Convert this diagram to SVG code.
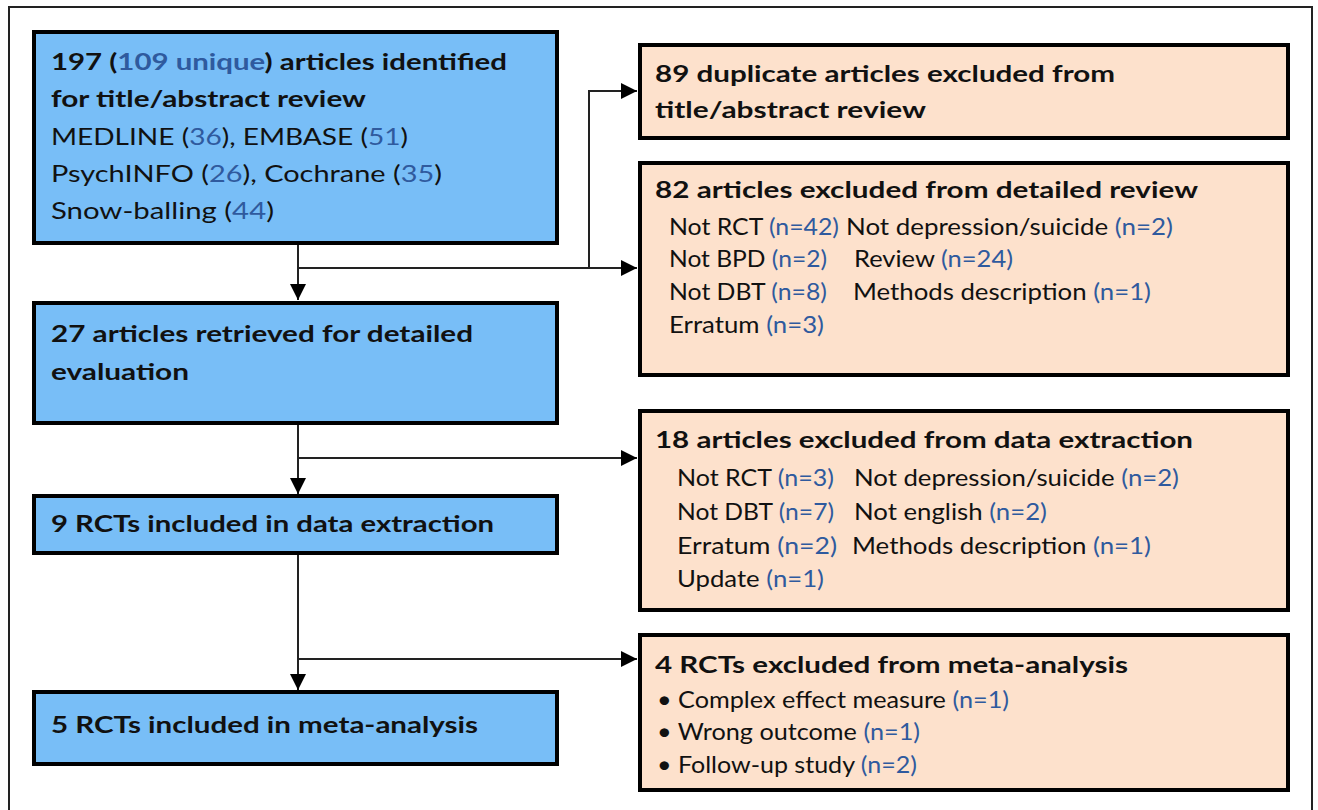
<svg xmlns="http://www.w3.org/2000/svg" width="1318" height="810" viewBox="0 0 1318 810">
<style>
.frame{fill:#fff;stroke:#222;stroke-width:2}
.blue{fill:#78BEF7;stroke:#000;stroke-width:4}
.peach{fill:#FDE1CC;stroke:#000;stroke-width:4}
text{font-family:Lato,"Open Sans","Liberation Sans",sans-serif;fill:#111;font-size:23.5px}
.b{font-weight:bold}
.n{fill:#2F5A9E}
.conn{fill:none;stroke:#222;stroke-width:2}
</style>
<defs>
<marker id="ah" markerUnits="userSpaceOnUse" markerWidth="17" markerHeight="17" refX="16" refY="8" orient="auto">
<path d="M0,0 L16,8 L0,16 z" fill="#000"/>
</marker>
</defs>
<rect class="frame" x="9" y="7" width="1303" height="820"/>
<g id="connectors">
<path class="conn" d="M298 245 V300" marker-end="url(#ah)"/>
<path class="conn" d="M298 268 H637" marker-end="url(#ah)"/>
<path class="conn" d="M589 268 V91 H637" marker-end="url(#ah)"/>
<path class="conn" d="M298 425 V494" marker-end="url(#ah)"/>
<path class="conn" d="M298 458 H637" marker-end="url(#ah)"/>
<path class="conn" d="M298 555 V690" marker-end="url(#ah)"/>
<path class="conn" d="M298 659 H637" marker-end="url(#ah)"/>
</g>
<g id="identified">
<rect class="blue" x="34" y="32" width="523" height="211"/>
<text class="b" x="51" y="70" textLength="456" lengthAdjust="spacingAndGlyphs">197 (<tspan class="n">109 unique</tspan>) articles identified</text>
<text class="b" x="51" y="107" textLength="315" lengthAdjust="spacingAndGlyphs">for title/abstract review</text>
<text x="51" y="145" textLength="357" lengthAdjust="spacingAndGlyphs">MEDLINE (<tspan class="n">36</tspan>), EMBASE (<tspan class="n">51</tspan>)</text>
<text x="51" y="182" textLength="391" lengthAdjust="spacingAndGlyphs">PsychINFO (<tspan class="n">26</tspan>), Cochrane (<tspan class="n">35</tspan>)</text>
<text x="51" y="219" textLength="223" lengthAdjust="spacingAndGlyphs">Snow-balling (<tspan class="n">44</tspan>)</text>
</g>
<g id="retrieved">
<rect class="blue" x="34" y="303" width="523" height="120"/>
<text class="b" x="51" y="342" textLength="422" lengthAdjust="spacingAndGlyphs">27 articles retrieved for detailed</text>
<text class="b" x="51" y="380" textLength="138" lengthAdjust="spacingAndGlyphs">evaluation</text>
</g>
<g id="extraction">
<rect class="blue" x="34" y="496" width="523" height="57"/>
<text class="b" x="51" y="532" textLength="443" lengthAdjust="spacingAndGlyphs">9 RCTs included in data extraction</text>
</g>
<g id="meta">
<rect class="blue" x="34" y="692" width="523" height="72"/>
<text class="b" x="51" y="733" textLength="427" lengthAdjust="spacingAndGlyphs">5 RCTs included in meta-analysis</text>
</g>
<g id="duplicates">
<rect class="peach" x="640" y="45" width="648" height="93"/>
<text class="b" x="655" y="82" textLength="460" lengthAdjust="spacingAndGlyphs">89 duplicate articles excluded from</text>
<text class="b" x="655" y="118" textLength="271" lengthAdjust="spacingAndGlyphs">title/abstract review</text>
</g>
<g id="excluded-detailed">
<rect class="peach" x="640" y="163" width="648" height="212"/>
<text class="b" x="655" y="198" textLength="543" lengthAdjust="spacingAndGlyphs">82 articles excluded from detailed review</text>
<text x="669" y="235" textLength="170" lengthAdjust="spacingAndGlyphs">Not RCT <tspan class="n">(n=42)</tspan></text>
<text x="846" y="235" textLength="327" lengthAdjust="spacingAndGlyphs">Not depression/suicide <tspan class="n">(n=2)</tspan></text>
<text x="669" y="267" textLength="158" lengthAdjust="spacingAndGlyphs">Not BPD <tspan class="n">(n=2)</tspan></text>
<text x="854" y="267" textLength="159" lengthAdjust="spacingAndGlyphs">Review <tspan class="n">(n=24)</tspan></text>
<text x="669" y="300" textLength="158" lengthAdjust="spacingAndGlyphs">Not DBT <tspan class="n">(n=8)</tspan></text>
<text x="853" y="300" textLength="298" lengthAdjust="spacingAndGlyphs">Methods description <tspan class="n">(n=1)</tspan></text>
<text x="669" y="333" textLength="155" lengthAdjust="spacingAndGlyphs">Erratum <tspan class="n">(n=3)</tspan></text>
</g>
<g id="excluded-extraction">
<rect class="peach" x="640" y="411" width="648" height="199"/>
<text class="b" x="655" y="448" textLength="538" lengthAdjust="spacingAndGlyphs">18 articles excluded from data extraction</text>
<text x="677" y="486" textLength="157" lengthAdjust="spacingAndGlyphs">Not RCT <tspan class="n">(n=3)</tspan></text>
<text x="854" y="486" textLength="325" lengthAdjust="spacingAndGlyphs">Not depression/suicide <tspan class="n">(n=2)</tspan></text>
<text x="677" y="520" textLength="157" lengthAdjust="spacingAndGlyphs">Not DBT <tspan class="n">(n=7)</tspan></text>
<text x="854" y="520" textLength="193" lengthAdjust="spacingAndGlyphs">Not english <tspan class="n">(n=2)</tspan></text>
<text x="677" y="554" textLength="160" lengthAdjust="spacingAndGlyphs">Erratum <tspan class="n">(n=2)</tspan></text>
<text x="852" y="554" textLength="299" lengthAdjust="spacingAndGlyphs">Methods description <tspan class="n">(n=1)</tspan></text>
<text x="677" y="587" textLength="147" lengthAdjust="spacingAndGlyphs">Update <tspan class="n">(n=1)</tspan></text>
</g>
<g id="excluded-meta">
<rect class="peach" x="640" y="635" width="648" height="155"/>
<text class="b" x="655" y="673" textLength="473" lengthAdjust="spacingAndGlyphs">4 RCTs excluded from meta-analysis</text>
<text x="657" y="708" textLength="352" lengthAdjust="spacingAndGlyphs">• Complex effect measure <tspan class="n">(n=1)</tspan></text>
<text x="657" y="740" textLength="263" lengthAdjust="spacingAndGlyphs">• Wrong outcome <tspan class="n">(n=1)</tspan></text>
<text x="657" y="773" textLength="260" lengthAdjust="spacingAndGlyphs">• Follow-up study <tspan class="n">(n=2)</tspan></text>
</g>
</svg>
